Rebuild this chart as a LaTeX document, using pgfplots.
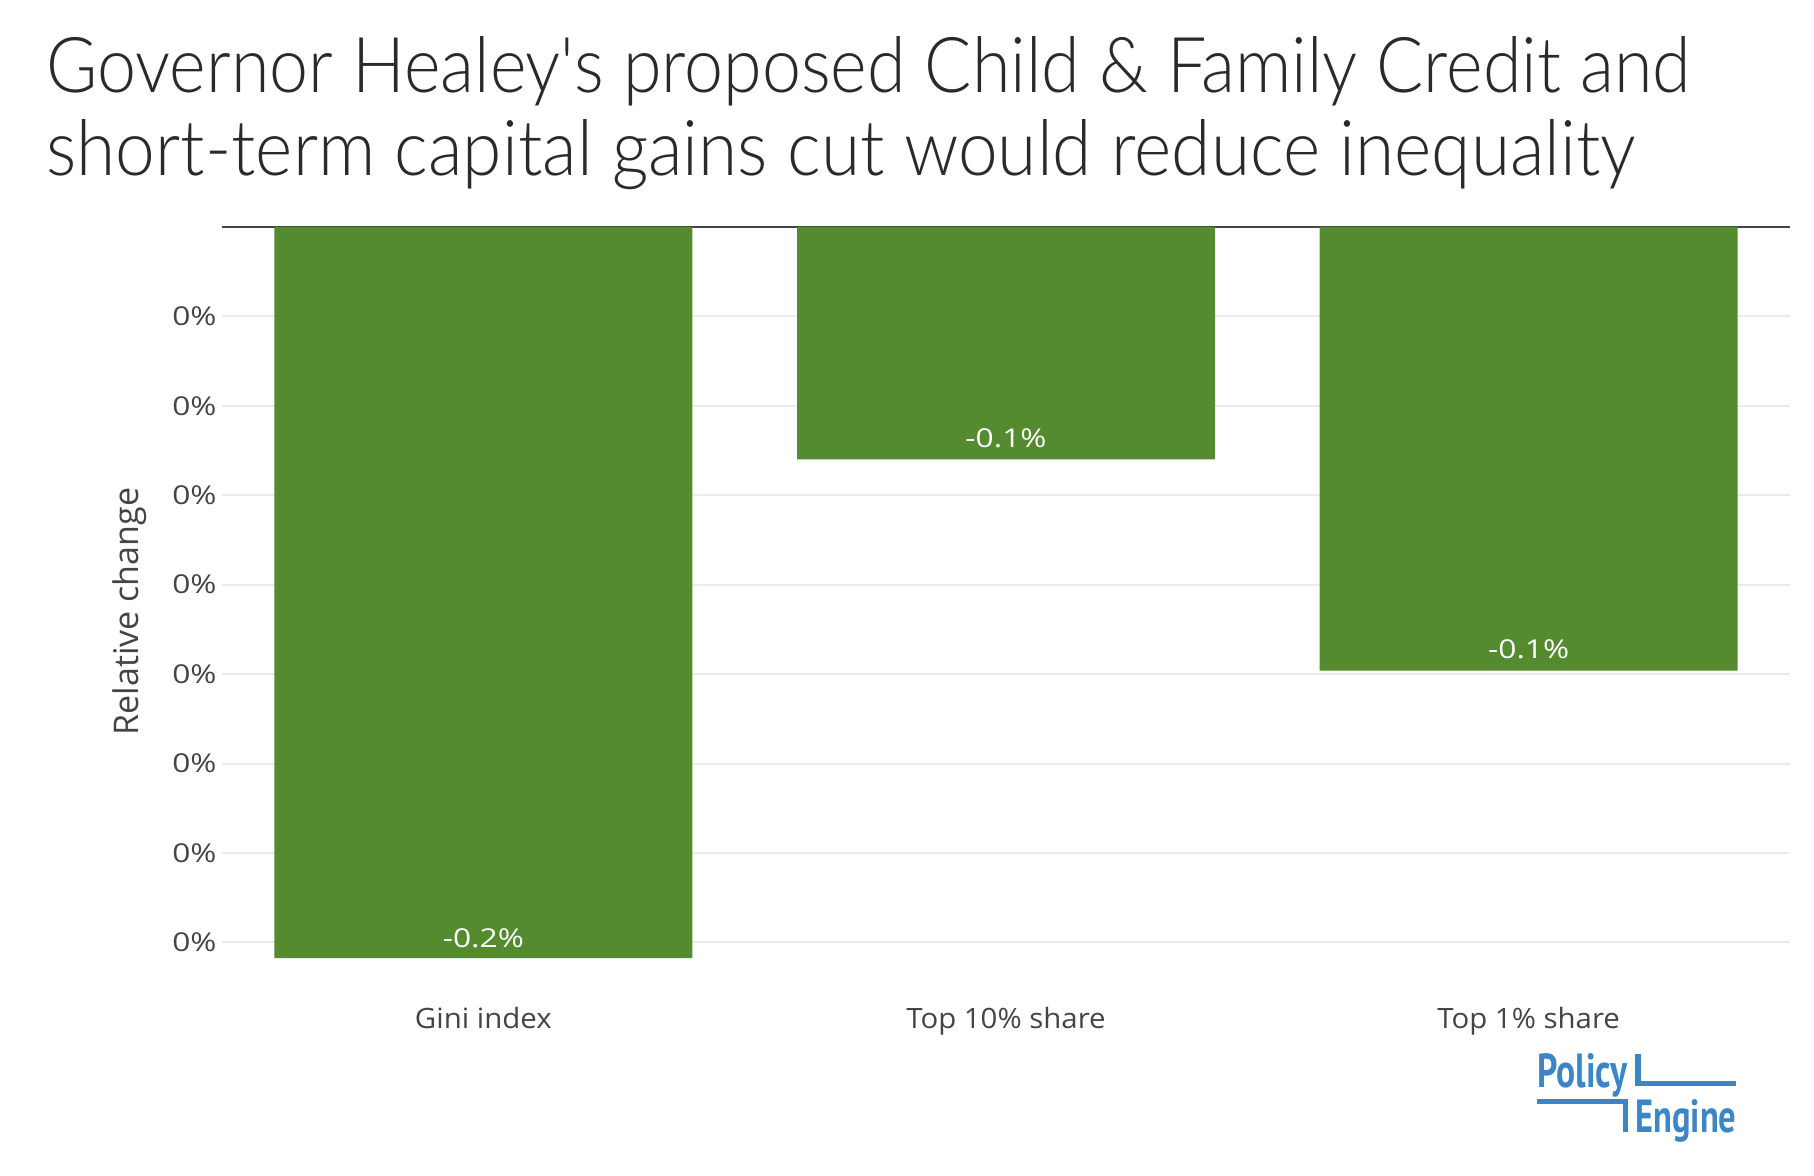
\documentclass[border=0pt]{standalone}
\usepackage{pgfplots}
\pgfplotsset{compat=1.18}
\usepackage{fontspec}
\setmainfont{Open Sans}
\newfontfamily\titlefont{Lato}[UprightFont={* Light}]
\newfontfamily\logofont{PT Sans}
\newfontfamily\wideA{Open Sans}[FakeStretch=1.22]
\newfontfamily\wideB{Open Sans}[FakeStretch=1.05]
\definecolor{bargreen}{RGB}{85,139,47}
\definecolor{txt}{HTML}{444444}
\definecolor{titlec}{HTML}{2A2A2A}
\definecolor{gridc}{HTML}{EBEBEB}
\definecolor{logoblue}{RGB}{60,134,199}
\begin{document}
\begin{tikzpicture}
\path (0,0) rectangle (907pt,-588pt);
% title
\node[anchor=base west, inner sep=0pt, text=titlec, font=\titlefont\fontsize{38.5pt}{40pt}\selectfont] at (23pt,-46.3pt) {\resizebox{822pt}{\height}{Governor Healey's proposed Child \& Family Credit and}};
\node[anchor=base west, inner sep=0pt, text=titlec, font=\titlefont\fontsize{38.5pt}{40pt}\selectfont] at (23pt,-88pt) {\resizebox{794.5pt}{\height}{short-term capital gains cut would reduce inequality}};
\begin{axis}[
  at={(111pt,-113.5pt)}, anchor=north west,
  scale only axis, width=784pt, height=384.5pt,
  xmin=-0.5, xmax=2.5, ymin=-0.215, ymax=0,
  ybar, bar width=209pt,
  axis x line*=bottom, axis y line*=left,
  axis line style={draw=none},
  xtick={0,1,2},
  xticklabels={Gini index, Top 10\% share, Top 1\% share},
  ytick={-0.2,-0.175,-0.15,-0.125,-0.1,-0.075,-0.05,-0.025},
  yticklabel={0\%},
  major tick length=0pt,
  ymajorgrids,
  major grid style={draw=gridc, line width=1pt},
  extra y ticks={0}, extra y tick labels={},
  extra y tick style={grid=major, major grid style={draw=txt, line width=0.6pt}},
  tick label style={text=txt},
  yticklabel style={font=\wideA\fontsize{13pt}{15pt}\selectfont, anchor=east, inner sep=0pt, xshift=-2.5pt},
  xticklabel style={font=\wideB\fontsize{14pt}{16pt}\selectfont, anchor=base, inner sep=0pt, yshift=-16pt},
  ylabel={Relative change},
  every axis y label/.style={at={(rel axis cs:0,0.5)}, xshift=-46pt, rotate=90, anchor=center, font=\fontsize{17pt}{19pt}\selectfont, text=txt},
  clip=false,
]
\addplot[fill=bargreen, draw=none] coordinates {(0,-0.2044) (1,-0.065) (2,-0.124)};
\node[text=white, font=\wideA\fontsize{13pt}{15pt}\selectfont, anchor=center, yshift=10pt] at (axis cs:0,-0.2044) {-0.2\%};
\node[text=white, font=\wideA\fontsize{13pt}{15pt}\selectfont, anchor=center, yshift=10.5pt] at (axis cs:1,-0.065) {-0.1\%};
\node[text=white, font=\wideA\fontsize{13pt}{15pt}\selectfont, anchor=center, yshift=10.5pt] at (axis cs:2,-0.124) {-0.1\%};
\end{axis}
% logo
\fill[logoblue] (817.5pt,-527pt) rectangle (820.5pt,-543pt);
\fill[logoblue] (817.5pt,-540.5pt) rectangle (868pt,-543pt);
\fill[logoblue] (768.5pt,-549.5pt) rectangle (814pt,-552pt);
\fill[logoblue] (811.5pt,-549.5pt) rectangle (814pt,-566pt);
\node[anchor=base west, inner sep=0pt, text=logoblue] at (768.5pt,-543.5pt) {\resizebox{45pt}{17pt}{\logofont\bfseries Policy}};
\node[anchor=base west, inner sep=0pt, text=logoblue] at (817.5pt,-566pt) {\resizebox{50.5pt}{16.5pt}{\logofont\bfseries Engine}};
\end{tikzpicture}
\end{document}
